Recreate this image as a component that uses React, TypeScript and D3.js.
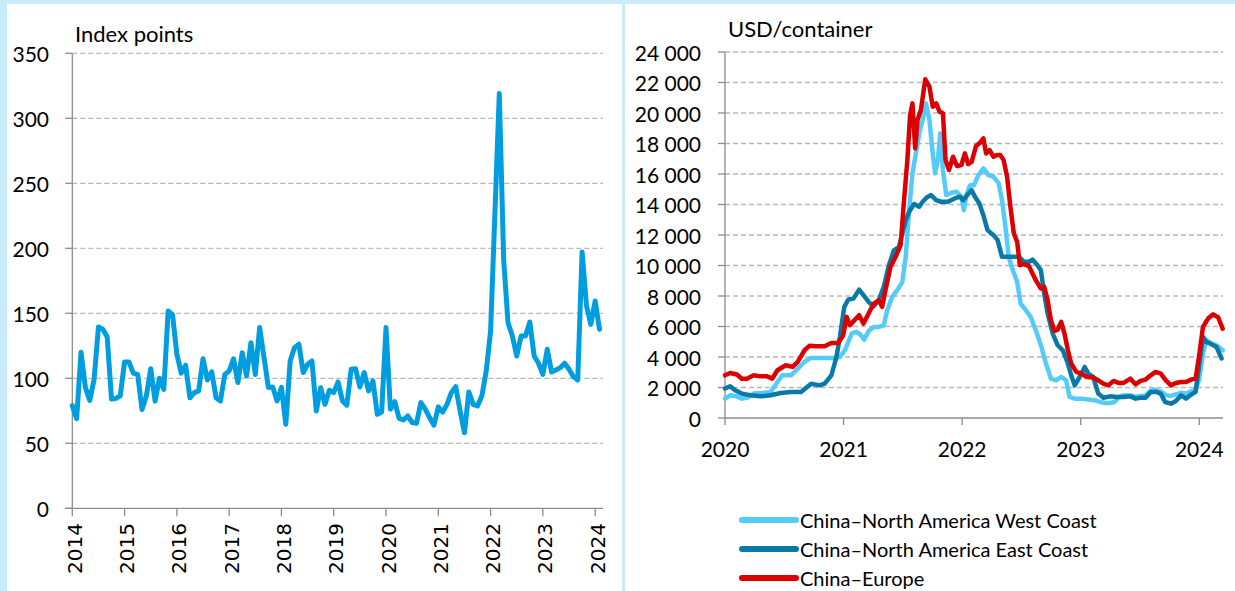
import React from 'react';
import * as d3 from 'd3';

// ---------- Left chart: index (monthly, Jan 2014 .. Feb 2024) ----------
const indexStartYear = 2014;
const indexValues: number[] = [
  // 2014
  79, 69, 120, 93, 83, 99, 139.5, 137.7, 132, 84, 84.5, 86.5,
  // 2015
  112.6, 112.6, 104, 103, 76, 86.5, 107.4, 82.6, 100, 91.5, 151.8, 149,
  // 2016
  118.5, 104, 110, 85, 89, 90.3, 115, 98.7, 105, 85, 82.6, 103,
  // 2017
  105.6, 115, 96.7, 119.7, 101.8, 127.4, 103, 139, 116, 93, 93.3, 82.6,
  // 2018
  93, 64.6, 113.3, 123.6, 126.2, 104.4, 110.8, 113.3, 74.9, 92.8, 80, 90.8,
  // 2019
  89, 97.2, 82.6, 79.3, 107, 107.4, 93.3, 104.4, 90.3, 98, 72.3, 74.1,
  // 2020
  139, 76.3, 82, 69.2, 68, 71, 66, 65.4, 81.3, 76.3, 69.8, 63.9,
  // 2021
  78, 74, 80, 89, 93.6, 74.9, 58.2, 89.5, 80, 78.7, 86.5, 105.6,
  // 2022
  136.4, 227.4, 319, 191.5, 142.8, 132.6, 117.2, 132.6, 132.6, 143.3, 117.2, 111.6,
  // 2023
  103, 122.3, 104.9, 106.4, 108.2, 111.6, 107, 101.3, 98.7, 197.2, 156, 141.5,
  // 2024
  159.5, 137.7,
];
const leftYTicks = [0, 50, 100, 150, 200, 250, 300, 350];
const leftXTicks = [2014, 2015, 2016, 2017, 2018, 2019, 2020, 2021, 2022, 2023, 2024];
const leftTitle = 'Index points';

// ---------- Right chart: freight rates (USD/container), decimal-year dates ----------
const westCoast: [number, number][] = [
  [2020.000, 1270], [2020.043, 1490], [2020.100, 1420], [2020.142, 1270], [2020.185, 1330],
  [2020.242, 1600], [2020.313, 1640], [2020.385, 1710], [2020.442, 2360], [2020.484, 2800],
  [2020.556, 2800], [2020.613, 3240], [2020.670, 3680], [2020.726, 3940], [2020.812, 3940],
  [2020.912, 3940], [2020.969, 4000], [2021.011, 4440], [2021.040, 4990], [2021.068, 5540],
  [2021.103, 5650], [2021.140, 5490], [2021.174, 5140], [2021.211, 5710], [2021.254, 5970],
  [2021.296, 5970], [2021.339, 6080], [2021.368, 7070], [2021.410, 7940], [2021.453, 8380],
  [2021.496, 8930], [2021.524, 10570], [2021.553, 13630], [2021.581, 16040], [2021.610, 17350],
  [2021.638, 18660], [2021.667, 19540], [2021.695, 20630], [2021.724, 19540], [2021.752, 17350],
  [2021.772, 16040], [2021.795, 16910], [2021.815, 18660], [2021.838, 16260], [2021.866, 14620],
  [2021.909, 14770], [2021.952, 14840], [2021.994, 14510], [2022.014, 13630], [2022.037, 14620],
  [2022.066, 15270], [2022.100, 15270], [2022.137, 15930], [2022.179, 16370], [2022.222, 15930],
  [2022.265, 15820], [2022.308, 15380], [2022.336, 14290], [2022.365, 12540], [2022.393, 10570],
  [2022.422, 9800], [2022.464, 8930], [2022.493, 7500], [2022.536, 7070], [2022.578, 6630],
  [2022.621, 5750], [2022.664, 4770], [2022.707, 3570], [2022.749, 2580], [2022.792, 2470],
  [2022.835, 2690], [2022.877, 2470], [2022.906, 1380], [2022.949, 1270], [2023.006, 1270],
  [2023.077, 1200], [2023.120, 1160], [2023.162, 1050], [2023.205, 980], [2023.248, 980],
  [2023.285, 1050], [2023.319, 1350], [2023.362, 1500], [2023.419, 1480], [2023.462, 1400],
  [2023.504, 1450], [2023.547, 1480], [2023.590, 1800], [2023.632, 1850], [2023.675, 1750],
  [2023.718, 1500], [2023.761, 1450], [2023.803, 1550], [2023.846, 1650], [2023.889, 1600],
  [2023.932, 1750], [2023.969, 1850], [2023.997, 2470], [2024.031, 4220], [2024.060, 5100],
  [2024.103, 4880], [2024.145, 4770], [2024.197, 4440],
];
const eastCoast: [number, number][] = [
  [2020.000, 1930], [2020.043, 2080], [2020.085, 1820], [2020.142, 1600], [2020.214, 1490],
  [2020.299, 1420], [2020.385, 1490], [2020.470, 1640], [2020.556, 1710], [2020.641, 1710],
  [2020.726, 2250], [2020.798, 2140], [2020.840, 2250], [2020.897, 2800], [2020.940, 4000],
  [2020.969, 5320], [2021.006, 7290], [2021.040, 7770], [2021.083, 7830], [2021.131, 8420],
  [2021.168, 8050], [2021.211, 7610], [2021.254, 7330], [2021.296, 7720], [2021.339, 8600],
  [2021.382, 10020], [2021.425, 11000], [2021.467, 11220], [2021.496, 12100], [2021.524, 12970],
  [2021.553, 13520], [2021.595, 14030], [2021.638, 13850], [2021.667, 14180], [2021.701, 14460],
  [2021.738, 14620], [2021.781, 14290], [2021.823, 14180], [2021.880, 14180], [2021.937, 14400],
  [2021.980, 14510], [2022.009, 14290], [2022.043, 14620], [2022.080, 14940], [2022.108, 14510],
  [2022.145, 14070], [2022.179, 13300], [2022.214, 12320], [2022.265, 11990], [2022.299, 11660],
  [2022.336, 10570], [2022.379, 10570], [2022.436, 10570], [2022.479, 10570], [2022.521, 10240],
  [2022.564, 10240], [2022.593, 10390], [2022.635, 10020], [2022.664, 9690], [2022.692, 8160],
  [2022.721, 6850], [2022.764, 5540], [2022.806, 4770], [2022.849, 4440], [2022.892, 3570],
  [2022.920, 2800], [2022.949, 2140], [2022.991, 2690], [2023.034, 3350], [2023.063, 2910],
  [2023.105, 2690], [2023.148, 1600], [2023.191, 1330], [2023.248, 1420], [2023.305, 1380],
  [2023.362, 1380], [2023.419, 1420], [2023.462, 1270], [2023.504, 1330], [2023.547, 1330],
  [2023.590, 1710], [2023.638, 1710], [2023.675, 1600], [2023.712, 1050], [2023.761, 940],
  [2023.803, 1120], [2023.846, 1490], [2023.889, 1270], [2023.923, 1490], [2023.969, 1710],
  [2023.997, 3350], [2024.031, 5320], [2024.060, 4990], [2024.103, 4840], [2024.145, 4660],
  [2024.188, 3900],
];
const chinaEurope: [number, number][] = [
  [2020.000, 2800], [2020.043, 2950], [2020.100, 2850], [2020.142, 2580], [2020.185, 2580],
  [2020.242, 2800], [2020.299, 2730], [2020.356, 2730], [2020.399, 2580], [2020.442, 3130],
  [2020.513, 3460], [2020.570, 3350], [2020.613, 3680], [2020.670, 4440], [2020.712, 4730],
  [2020.769, 4700], [2020.840, 4700], [2020.897, 4920], [2020.954, 4920], [2020.997, 5430],
  [2021.026, 6630], [2021.054, 6080], [2021.091, 6410], [2021.131, 6740], [2021.168, 6190],
  [2021.211, 6850], [2021.254, 7500], [2021.296, 7720], [2021.325, 7290], [2021.353, 8380],
  [2021.396, 9910], [2021.439, 10570], [2021.481, 11330], [2021.510, 14290], [2021.538, 16910],
  [2021.561, 19870], [2021.581, 20630], [2021.604, 17680], [2021.624, 19540], [2021.652, 20200],
  [2021.689, 22210], [2021.724, 21730], [2021.752, 20410], [2021.781, 20630], [2021.809, 20090],
  [2021.838, 19980], [2021.860, 16910], [2021.889, 16260], [2021.923, 17130], [2021.957, 16520],
  [2021.994, 16590], [2022.023, 17350], [2022.051, 16650], [2022.080, 16800], [2022.117, 17830],
  [2022.151, 18050], [2022.179, 18340], [2022.202, 17350], [2022.231, 17570], [2022.265, 17130],
  [2022.293, 17240], [2022.322, 17240], [2022.350, 16910], [2022.379, 15820], [2022.407, 13850],
  [2022.436, 12100], [2022.464, 11550], [2022.487, 10020], [2022.521, 10090], [2022.564, 9960],
  [2022.593, 9470], [2022.621, 9040], [2022.664, 8490], [2022.692, 8600], [2022.721, 7720],
  [2022.749, 6410], [2022.778, 5710], [2022.806, 5800], [2022.835, 6300], [2022.863, 5540],
  [2022.892, 4440], [2022.920, 3570], [2022.963, 3020], [2023.006, 2910], [2023.048, 2690],
  [2023.105, 2650], [2023.148, 2470], [2023.191, 2250], [2023.234, 2140], [2023.276, 2430],
  [2023.319, 2300], [2023.362, 2300], [2023.419, 2580], [2023.462, 2210], [2023.504, 2430],
  [2023.547, 2520], [2023.590, 2800], [2023.632, 3020], [2023.675, 2910], [2023.718, 2470],
  [2023.761, 2140], [2023.803, 2300], [2023.846, 2360], [2023.889, 2360], [2023.932, 2520],
  [2023.969, 2580], [2023.997, 4000], [2024.031, 5970], [2024.074, 6520], [2024.117, 6800],
  [2024.160, 6590], [2024.197, 5860],
];
const rightYTicks = [0, 2000, 4000, 6000, 8000, 10000, 12000, 14000, 16000, 18000, 20000, 22000, 24000];
const rightXTicks = [2020, 2021, 2022, 2023, 2024];
const rightTitle = 'USD/container';
const seriesNames = [
  'China\u2013North America West Coast',
  'China\u2013North America East Coast',
  'China\u2013Europe',
];
const seriesColors = ['#55cbfa', '#0a79a8', '#dc0000'];

const FRAME = '#c9ecfa';
const AXIS = '#8c8c8c';
const GRID = '#b8b8b8';
const SANS = 'Lato, "Open Sans", sans-serif';

const fmtThousands = (v: number) =>
  v >= 1000 ? `${Math.floor(v / 1000)}\u00a0${String(v % 1000).padStart(3, '0')}` : String(v);

export default function App() {
  // left scales
  const lx = d3.scaleLinear().domain([2014, 2024.15]).range([72.3, 603]);
  const ly = d3.scaleLinear().domain([0, 350]).range([508.3, 53.3]);
  const leftData = indexValues.map((v, i) => [indexStartYear + i / 12, v] as [number, number]);
  const leftLine = d3
    .line<[number, number]>()
    .x((d) => lx(d[0]))
    .y((d) => ly(d[1]));

  // right scales
  const rx = d3.scaleLinear().domain([2020, 2024.2]).range([725, 1223]);
  const ry = d3.scaleLinear().domain([0, 24000]).range([418, 52]);
  const rightLine = d3
    .line<[number, number]>()
    .x((d) => rx(d[0]))
    .y((d) => ry(d[1]));
  const rightSeries = [westCoast, eastCoast, chinaEurope];

  return (
    <svg
      width={1235}
      height={591}
      style={{ position: 'absolute', left: 0, top: 0, display: 'block' }}
      xmlns="http://www.w3.org/2000/svg"
    >
      <rect x={0} y={0} width={1235} height={591} fill={FRAME} />
      <rect x={7} y={4} width={615} height={587} fill="#ffffff" />
      <rect x={625} y={4} width={610} height={587} fill="#ffffff" />

      {/* ---------- LEFT CHART ---------- */}
      <g>
        {leftYTicks.map((t) => (
          <g key={'lg' + t}>
            {t !== 0 && (
              <line
                x1={lx(2014)}
                x2={lx.range()[1]}
                y1={ly(t)}
                y2={ly(t)}
                stroke={GRID}
                strokeWidth={1.3}
                strokeDasharray="5,3"
              />
            )}
            <line x1={lx(2014) - 7} x2={lx(2014)} y1={ly(t)} y2={ly(t)} stroke={AXIS} strokeWidth={1.3} />
            <text
              x={49}
              y={ly(t)}
              textAnchor="end"
              dominantBaseline="central"
              fontFamily={SANS}
              fontSize={21}
              fill="#000"
            >
              {t}
            </text>
          </g>
        ))}
        <line x1={lx(2014)} x2={lx(2014)} y1={ly(350)} y2={ly(0)} stroke={AXIS} strokeWidth={1.3} />
        <line x1={lx(2014) - 7} x2={lx.range()[1]} y1={ly(0)} y2={ly(0)} stroke={AXIS} strokeWidth={1.3} />
        {leftXTicks.map((t) => (
          <g key={'lx' + t}>
            <line x1={lx(t)} x2={lx(t)} y1={ly(0)} y2={ly(0) + 8} stroke={AXIS} strokeWidth={1.3} />
            <text
              transform={`translate(${lx(t) + 2.5},${523}) rotate(-90)`}
              textAnchor="end"
              dominantBaseline="central"
              fontFamily='"DejaVu Sans", Verdana, sans-serif'
              fontSize={20}
              fill="#000"
            >
              {t}
            </text>
          </g>
        ))}
        <path
          d={leftLine(leftData) || ''}
          fill="none"
          stroke="#009ee0"
          strokeWidth={5}
          strokeLinejoin="round"
          strokeLinecap="round"
        />
        <text x={75} y={42} fontFamily={SANS} fontSize={22} fill="#000">
          {leftTitle}
        </text>
      </g>

      {/* ---------- RIGHT CHART ---------- */}
      <g>
        {rightYTicks.map((t) => (
          <g key={'rg' + t}>
            {t !== 0 && (
              <line
                x1={rx(2020)}
                x2={rx.range()[1]}
                y1={ry(t)}
                y2={ry(t)}
                stroke={GRID}
                strokeWidth={1.3}
                strokeDasharray="5,3"
              />
            )}
            <line x1={rx(2020) - 7} x2={rx(2020)} y1={ry(t)} y2={ry(t)} stroke={AXIS} strokeWidth={1.3} />
            <text
              x={701}
              y={ry(t)}
              textAnchor="end"
              dominantBaseline="central"
              fontFamily={SANS}
              fontSize={21}
              fill="#000"
            >
              {fmtThousands(t)}
            </text>
          </g>
        ))}
        <line x1={rx(2020)} x2={rx(2020)} y1={ry(24000)} y2={ry(0)} stroke={AXIS} strokeWidth={1.3} />
        <line x1={rx(2020)} x2={rx.range()[1]} y1={ry(0)} y2={ry(0)} stroke={AXIS} strokeWidth={1.3} />
        {rightXTicks.map((t) => (
          <g key={'rx' + t}>
            <line x1={rx(t)} x2={rx(t)} y1={ry(0)} y2={ry(0) + 7} stroke={AXIS} strokeWidth={1.3} />
            <text x={rx(t)} y={457} textAnchor="middle" fontFamily={SANS} fontSize={21} fill="#000">
              {t}
            </text>
          </g>
        ))}
        {rightSeries.map((s, i) => (
          <path
            key={'rs' + i}
            d={rightLine(s) || ''}
            fill="none"
            stroke={seriesColors[i]}
            strokeWidth={4.5}
            strokeLinejoin="round"
            strokeLinecap="round"
          />
        ))}
        <text x={728} y={37} fontFamily={SANS} fontSize={22} fill="#000">
          {rightTitle}
        </text>
        {seriesNames.map((name, i) => (
          <g key={'lg' + i} transform={`translate(0,${520 + i * 29})`}>
            <line x1={742} x2={796} y1={0} y2={0} stroke={seriesColors[i]} strokeWidth={6} strokeLinecap="round" />
            <text x={800} y={0} dominantBaseline="central" fontFamily={SANS} fontSize={20} fill="#000">
              {name}
            </text>
          </g>
        ))}
      </g>
    </svg>
  );
}
